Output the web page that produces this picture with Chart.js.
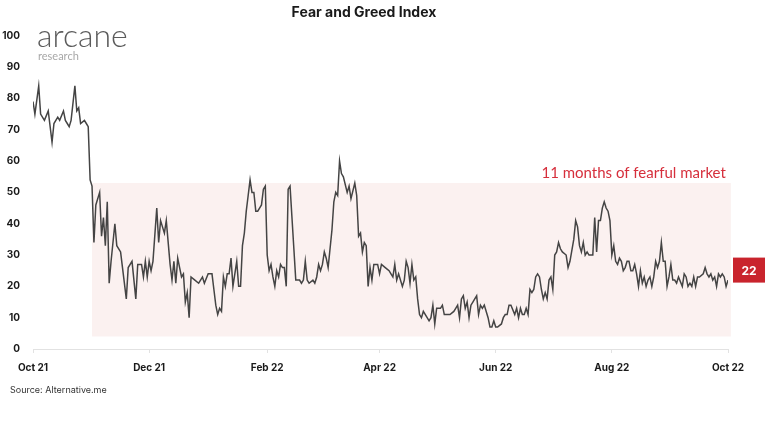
<!DOCTYPE html>
<html lang="en">
<head>
<meta charset="UTF-8">
<title>Fear and Greed Index</title>
<script src="https://cdn.jsdelivr.net/npm/chart.js"></script>
<style>
  body { margin: 0; background: #fff; }
  #wrap { width: 768px; height: 438px; }
</style>
</head>
<body>
<div id="wrap"><canvas id="fgChart" width="768" height="438"></canvas></div>
<script>
// days counted from 1 Oct 2021, value of the index on that day
var days = [0,1,3,4,6,8,10,11,13,14,16,17,18,19,20,22,23,24,25,27,28,29,30,31,32,33,35,36,37,38,39,40,41,43,44,46,47,49,50,52,54,55,57,58,59,60,61,62,63,65,66,67,68,69,70,72,73,74,75,76,77,78,79,80,81,82,83,85,87,88,89,90,92,94,95,96,97,98,99,100,101,102,103,104,105,107,108,109,110,111,112,113,114,115,116,117,118,119,120,121,122,123,124,125,126,127,128,129,130,131,132,133,134,135,136,137,138,140,141,142,143,144,145,147,148,149,150,151,152,153,154,155,157,158,159,160,161,162,163,165,166,167,169,170,171,172,173,174,175,176,177,178,179,181,182,183,185,187,188,189,190,191,192,194,195,196,197,198,199,200,201,202,203,204,205,207,208,209,210,211,212,213,214,215,216,217,218,219,221,222,223,224,225,226,227,228,229,230,231,232,233,234,235,236,237,239,240,241,242,243,244,246,247,248,249,250,251,253,254,255,256,257,258,259,260,261,262,263,264,265,266,267,268,269,270,271,272,273,274,275,276,277,278,280,281,282,284,285,286,287,288,289,290,291,292,294,295,296,297,298,299,300,301,302,303,304,305,306,307,308,309,310,311,312,313,314,315,316,317,318,319,320,321,322,323,324,325,326,327,328,329,330,331,332,333,334,335,336,337,338,339,341,342,343,344,345,346,347,348,349,350,352,353,354,355,356,357,358,359,360,361,362,363,364,365];
var values = [79,75,84,75,73,76,66,72,74,73,76,73,72,71,73,84,76,77,72,73,72,71,54,52,34,46,50,36,42,33,47,21,28,40,33,31,26,16,26,28,16,27,27,23,28,23,28,25,28,45,34,41,39,37,41,27,22,28,21,29,26,23,24,15,18,10,23,22,21,22,23,21,24,24,19,14,11,13,12,23,20,24,24,29,20,28,20,20,33,37,44,49,54,50,50,44,44,45,46,51,52,30,25,27,23,20,25,23,27,26,26,20,51,52,42,32,22,22,21,22,28,22,21,22,21,23,27,25,27,31,29,26,38,47,50,49,60,56,55,50,52,48,53,49,36,37,31,34,33,20,26,22,27,27,24,27,26,25,24,23,27,22,24,20,22,28,26,21,27,22,23,16,11,10,12,10,9,10,14,8,13,13,13,14,11,11,11,11,12,13,14,10,16,17,13,15,10,14,15,16,17,11,14,13,14,10,7,7,9,7,7,8,10,11,11,14,14,11,13,10,13,11,11,13,11,19,18,19,23,24,23,19,16,18,16,22,23,19,30,31,34,32,31,30,26,28,35,41,39,33,31,34,30,31,30,30,42,31,41,41,45,47,45,44,41,30,33,28,27,29,28,25,26,28,28,25,25,27,24,20,25,21,23,20,22,23,20,23,28,26,28,34,28,28,20,23,27,22,22,21,23,20,24,23,20,21,20,23,20,23,23,24,26,24,23,24,22,23,20,24,23,24,23,20,22];

var tickDays = [0, 61, 123, 182, 243, 304, 365];
var tickLabels = ['Oct 21', 'Dec 21', 'Feb 22', 'Apr 22', 'Jun 22', 'Aug 22', 'Oct 22'];

// the "fearful market" band
var bandStart = 31, bandEnd = 366.5, bandLow = 4, bandHigh = 53;
var bandText = '11 months of fearful market';
var sourceText = 'Source: Alternative.me';

var points = days.map(function (d, i) { return { x: d, y: values[i] }; });

var decorations = {
    id: 'decorations',
    beforeDatasetsDraw: function (chart) {
        var c = chart.ctx, xs = chart.scales.x, ys = chart.scales.y;
        var x0 = xs.getPixelForValue(bandStart), x1 = xs.getPixelForValue(bandEnd);
        var y0 = ys.getPixelForValue(bandHigh), y1 = ys.getPixelForValue(bandLow);
        c.save();
        c.fillStyle = '#fbf1f0';
        c.fillRect(x0, y0, x1 - x0, y1 - y0);
        c.fillStyle = '#d62f3c';
        c.font = '15px Lato, "Open Sans", sans-serif';
        c.textAlign = 'right';
        c.textBaseline = 'middle';
        c.fillText(bandText, x1 - 5, y0 - 10);
        c.restore();
    },
    afterDraw: function (chart) {
        var c = chart.ctx, ys = chart.scales.y;
        c.save();
        // logo
        c.fillStyle = '#5b5b5b';
        c.font = '300 32px Lato, sans-serif';
        c.textAlign = 'left';
        c.textBaseline = 'alphabetic';
        c.fillText('arcane', 37, 47);
        c.fillStyle = '#a8a8a8';
        c.font = '11px Lato, sans-serif';
        c.fillText('research', 38, 60);
        // source
        c.fillStyle = '#333';
        c.font = '9px Inter, sans-serif';
        c.fillText(sourceText, 10, 393);
        // last value tag
        var last = values[values.length - 1];
        var ty = ys.getPixelForValue(last) - 10;
        c.fillStyle = '#c9242d';
        c.fillRect(733, ty - 12.5, 32, 25);
        c.fillStyle = '#fff';
        c.font = 'bold 12px Inter, sans-serif';
        c.textAlign = 'center';
        c.textBaseline = 'middle';
        c.fillText(String(last), 749, ty + 1);
        c.restore();
    }
};

var ctx = document.getElementById('fgChart').getContext('2d');
var fgChart = new Chart(ctx, {
    type: 'line',
    data: {
        datasets: [{
            data: points,
            borderColor: '#444',
            borderWidth: 1.5,
            pointRadius: 0,
            tension: 0,
            fill: false
        }]
    },
    options: {
        responsive: false,
        animation: false,
        layout: { padding: { left: 0, right: 40, bottom: 56 } },
        plugins: {
            legend: { display: false },
            tooltip: { enabled: false },
            title: {
                display: true,
                text: 'Fear and Greed Index',
                color: '#1a1a1a',
                font: { family: 'Inter', size: 14, weight: 'bold' },
                padding: { top: 4, bottom: 15 }
            }
        },
        scales: {
            x: {
                type: 'linear',
                min: 0,
                max: 365,
                afterBuildTicks: function (scale) {
                    scale.ticks = tickDays.map(function (d) { return { value: d }; });
                },
                afterFit: function (scale) { scale.height = 33; },
                ticks: {
                    color: '#1a1a1a',
                    font: { family: 'Inter', size: 10, weight: 'bold' },
                    padding: 9,
                    maxRotation: 0,
                    callback: function (v) { return tickLabels[tickDays.indexOf(v)]; }
                },
                grid: { drawOnChartArea: false, drawTicks: true, tickLength: 4, color: '#e2e2e2' },
                border: { color: '#e2e2e2' }
            },
            y: {
                min: 0,
                max: 100,
                afterFit: function (scale) { scale.width = 33; },
                ticks: {
                    stepSize: 10,
                    color: '#1a1a1a',
                    font: { family: 'Inter', size: 10, weight: 'bold' },
                    padding: 5
                },
                grid: { display: false },
                border: { display: false }
            }
        }
    },
    plugins: [decorations]
});
</script>
</body>
</html>
